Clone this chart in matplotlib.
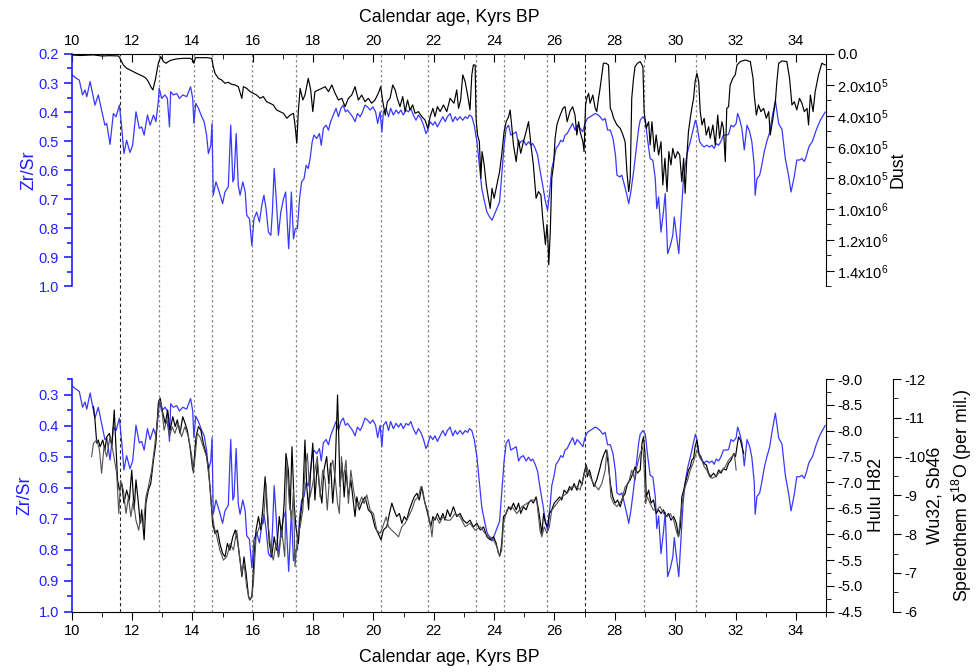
import numpy as np
import matplotlib
matplotlib.use("Agg")
import matplotlib.pyplot as plt
from matplotlib.ticker import MultipleLocator, FuncFormatter

plt.rcParams['font.family'] = ['Liberation Sans', 'DejaVu Sans']
plt.rcParams['mathtext.default'] = 'regular'
plt.rcParams['axes.unicode_minus'] = False
plt.rcParams['font.size'] = 10.5

BLUE = '#3838ff'
TXT_BLUE = '#2020ff'

# Zr/Sr ratio (same record in both panels)
zrsr_age = [
    10.00, 10.08, 10.16, 10.25, 10.36, 10.44, 10.50, 10.61, 10.68, 10.77, 10.88, 10.99,
    11.10, 11.16, 11.27, 11.38, 11.47, 11.58, 11.66, 11.73, 11.82, 11.93, 12.02, 12.13,
    12.24, 12.32, 12.40, 12.51, 12.60, 12.71, 12.79, 12.87, 12.90, 12.98, 13.09, 13.17,
    13.24, 13.28, 13.37, 13.48, 13.57, 13.68, 13.81, 13.94, 14.01, 14.05, 14.11, 14.20,
    14.31, 14.39, 14.47, 14.53, 14.61, 14.65, 14.69, 14.78, 14.89, 15.00, 15.08, 15.19,
    15.27, 15.34, 15.38, 15.45, 15.52, 15.58, 15.67, 15.75, 15.80, 15.89, 15.97,
    16.04, 16.13, 16.22, 16.30, 16.37, 16.44, 16.52, 16.60, 16.65, 16.71, 16.77, 16.85,
    16.93, 17.02, 17.09, 17.15, 17.19, 17.24, 17.28, 17.35, 17.41, 17.48, 17.55, 17.62,
    17.70, 17.77, 17.84, 17.90, 17.97, 18.03, 18.12, 18.21, 18.27, 18.34, 18.43, 18.51,
    18.58, 18.67, 18.76, 18.84, 18.92, 19.00, 19.07, 19.14, 19.23, 19.31, 19.39, 19.47,
    19.56, 19.64, 19.72, 19.80, 19.89, 19.98, 20.07, 20.14, 20.22, 20.28, 20.33, 20.42,
    20.50, 20.57, 20.66, 20.75, 20.83, 20.91, 20.99, 21.08, 21.16, 21.24, 21.32, 21.41,
    21.49, 21.57, 21.66, 21.74, 21.80, 21.88, 21.97, 22.04, 22.12, 22.21, 22.30, 22.38,
    22.45, 22.54, 22.63, 22.71, 22.78, 22.87, 22.96, 23.04, 23.12, 23.18, 23.26, 23.34,
    23.43, 23.51, 23.59, 23.67, 23.76, 23.85, 23.93, 24.00, 24.09, 24.18, 24.26, 24.33,
    24.40, 24.48, 24.55, 24.64, 24.73, 24.81, 24.88, 24.97, 25.06, 25.14, 25.22, 25.28,
    25.36, 25.44, 25.52, 25.61, 25.69, 25.77, 25.83, 25.91, 25.99, 26.05, 26.13, 26.21,
    26.28, 26.35, 26.42, 26.51, 26.60, 26.68, 26.75, 26.85, 26.94, 27.01, 27.09, 27.18,
    27.27, 27.35, 27.42, 27.51, 27.60, 27.68, 27.76, 27.85, 27.94, 28.02, 28.07, 28.16,
    28.23, 28.32, 28.40, 28.46, 28.53, 28.62, 28.71, 28.79, 28.84, 28.93, 29.01, 29.08,
    29.17, 29.26, 29.34, 29.39, 29.45, 29.53, 29.61, 29.67, 29.75, 29.84, 29.92, 29.97,
    30.03, 30.12, 30.19, 30.26, 30.33, 30.41, 30.50, 30.59, 30.67, 30.72, 30.81, 30.89,
    30.96, 31.05, 31.14, 31.22, 31.29, 31.36, 31.44, 31.51, 31.60, 31.69, 31.77, 31.85,
    31.93, 32.02, 32.07, 32.13, 32.21, 32.29, 32.38, 32.47, 32.54, 32.62, 32.65, 32.71,
    32.80, 32.87, 32.95, 33.04, 33.13, 33.21, 33.32, 33.43, 33.54, 33.65, 33.76, 33.84,
    33.95, 34.03, 34.12, 34.20, 34.28, 34.35, 34.43, 34.55, 34.68, 34.80, 34.97,
]
zrsr = [
    0.270, 0.278, 0.284, 0.290, 0.341, 0.324, 0.347, 0.295, 0.330, 0.376, 0.341, 0.393,
    0.445, 0.439, 0.511, 0.405, 0.416, 0.376, 0.456, 0.543, 0.497, 0.539, 0.514, 0.399,
    0.456, 0.451, 0.479, 0.410, 0.445, 0.410, 0.433, 0.364, 0.318, 0.353, 0.341, 0.353,
    0.451, 0.330, 0.341, 0.336, 0.353, 0.341, 0.347, 0.313, 0.353, 0.439, 0.370, 0.387,
    0.416, 0.433, 0.479, 0.543, 0.514, 0.439, 0.686, 0.640, 0.675, 0.715, 0.675, 0.657,
    0.445, 0.640, 0.629, 0.474, 0.652, 0.686, 0.640, 0.675, 0.755, 0.767, 0.859,
    0.767, 0.744, 0.778, 0.721, 0.686, 0.732, 0.813, 0.824, 0.744, 0.594, 0.686, 0.824,
    0.744, 0.698, 0.675, 0.790, 0.870, 0.767, 0.675, 0.836, 0.801, 0.801, 0.698, 0.640,
    0.629, 0.583, 0.594, 0.560, 0.502, 0.479, 0.491, 0.474, 0.514, 0.456, 0.445, 0.462,
    0.433, 0.410, 0.387, 0.416, 0.387, 0.376, 0.399, 0.393, 0.405, 0.416, 0.433, 0.405,
    0.416, 0.399, 0.376, 0.382, 0.393, 0.382, 0.399, 0.439, 0.399, 0.468, 0.399, 0.387,
    0.416, 0.387, 0.410, 0.393, 0.405, 0.393, 0.410, 0.393, 0.399, 0.387, 0.410, 0.428,
    0.410, 0.422, 0.445, 0.474, 0.462, 0.433, 0.445, 0.433, 0.451, 0.433, 0.416, 0.433,
    0.416, 0.405, 0.433, 0.416, 0.428, 0.416, 0.428, 0.416, 0.422, 0.410, 0.416, 0.445,
    0.502, 0.583, 0.663, 0.703, 0.744, 0.761, 0.772, 0.755, 0.732, 0.709, 0.606, 0.514,
    0.456, 0.445, 0.479, 0.474, 0.468, 0.514, 0.502, 0.497, 0.514, 0.502, 0.514, 0.508,
    0.525, 0.548, 0.600, 0.652, 0.703, 0.738, 0.686, 0.594, 0.560, 0.525, 0.514, 0.497,
    0.502, 0.479, 0.474, 0.456, 0.439, 0.462, 0.445, 0.456, 0.468, 0.439, 0.422, 0.416,
    0.410, 0.405, 0.408, 0.416, 0.428, 0.422, 0.462, 0.462, 0.491, 0.548, 0.617, 0.623,
    0.617, 0.652, 0.686, 0.715, 0.675, 0.606, 0.525, 0.456, 0.428, 0.416, 0.428, 0.491,
    0.560, 0.566, 0.629, 0.732, 0.692, 0.813, 0.744, 0.680, 0.887, 0.859, 0.824, 0.761,
    0.813, 0.887, 0.767, 0.652, 0.583, 0.537, 0.502, 0.462, 0.428, 0.445, 0.502, 0.514,
    0.520, 0.514, 0.520, 0.514, 0.525, 0.508, 0.514, 0.502, 0.479, 0.479, 0.477, 0.445,
    0.451, 0.439, 0.405, 0.422, 0.456, 0.530, 0.445, 0.468, 0.502, 0.583, 0.686, 0.629,
    0.617, 0.583, 0.537, 0.500, 0.470, 0.420, 0.360, 0.440, 0.460, 0.560, 0.620, 0.675,
    0.620, 0.565, 0.565, 0.560, 0.570, 0.550, 0.520, 0.500, 0.460, 0.430, 0.400,
]

# Dust (units of 1e5)
dust_age = [
    10.00, 10.28, 10.72, 10.99, 11.27, 11.55, 11.60, 11.71, 11.82, 11.93, 12.04, 12.15,
    12.26, 12.38, 12.46, 12.54, 12.62, 12.69, 12.77, 12.82, 12.87, 12.95, 13.04, 13.13,
    13.20, 13.31, 13.48, 13.70, 13.92, 14.01, 14.05, 14.10, 14.26, 14.48, 14.64, 14.69,
    14.75, 14.86, 14.97, 15.08, 15.19, 15.30, 15.41, 15.52, 15.64, 15.69, 15.80, 15.91,
    16.02, 16.13, 16.24, 16.35, 16.46, 16.57, 16.68, 16.79, 16.90, 17.02, 17.13, 17.24,
    17.35, 17.40, 17.46, 17.51, 17.57, 17.66, 17.73, 17.84, 17.92, 17.99, 18.06, 18.18,
    18.29, 18.40, 18.51, 18.62, 18.73, 18.84, 18.95, 19.06, 19.17, 19.28, 19.39, 19.50,
    19.61, 19.72, 19.83, 19.94, 20.05, 20.16, 20.24, 20.31, 20.39, 20.46, 20.55, 20.64,
    20.72, 20.79, 20.88, 20.97, 21.05, 21.13, 21.21, 21.30, 21.38, 21.49, 21.60, 21.71,
    21.80, 21.88, 21.97, 22.04, 22.12, 22.21, 22.32, 22.43, 22.54, 22.67, 22.76, 22.82,
    22.89, 22.96, 23.04, 23.12, 23.20, 23.26, 23.31, 23.37, 23.40, 23.45, 23.51, 23.56,
    23.60, 23.67, 23.74, 23.81, 23.87, 23.93, 24.00, 24.09, 24.18, 24.25, 24.33, 24.40,
    24.48, 24.53, 24.59, 24.64, 24.73, 24.81, 24.88, 24.97, 25.06, 25.14, 25.22, 25.30,
    25.39, 25.47, 25.55, 25.61, 25.66, 25.70, 25.75, 25.78, 25.81, 25.86, 25.91, 25.97,
    26.02, 26.08, 26.13, 26.19, 26.28, 26.35, 26.42, 26.51, 26.60, 26.68, 26.74, 26.80,
    26.85, 26.94, 26.98, 27.03, 27.07, 27.13, 27.18, 27.27, 27.35, 27.40, 27.46, 27.51,
    27.57, 27.62, 27.71, 27.79, 27.85, 27.90, 27.96, 28.07, 28.18, 28.27, 28.34, 28.40,
    28.46, 28.51, 28.56, 28.62, 28.67, 28.75, 28.84, 28.93, 28.97, 29.04, 29.12, 29.17,
    29.23, 29.31, 29.37, 29.45, 29.53, 29.59, 29.66, 29.73, 29.79, 29.86, 29.92, 30.00,
    30.08, 30.15, 30.22, 30.28, 30.33, 30.39, 30.44, 30.50, 30.55, 30.61, 30.66, 30.72,
    30.78, 30.83, 30.89, 30.96, 31.03, 31.11, 31.16, 31.25, 31.33, 31.41, 31.47, 31.55,
    31.60, 31.66, 31.71, 31.77, 31.82, 31.91, 31.99, 32.05, 32.16, 32.32, 32.49, 32.58,
    32.62, 32.69, 32.76, 32.84, 32.93, 33.02, 33.10, 33.15, 33.24, 33.32, 33.37, 33.43,
    33.54, 33.70, 33.79, 33.87, 33.95, 34.03, 34.12, 34.20, 34.28, 34.37, 34.42, 34.48,
    34.57, 34.64, 34.75, 34.86, 34.97,
]
dust_e5 = [
    0.06, 0.10, 0.06, 0.13, 0.11, 0.13, 0.28, 0.71, 0.92, 1.03, 1.14, 1.25,
    1.35, 1.46, 1.57, 1.79, 2.11, 2.32, 1.68, 1.14, 0.60, 0.17, 0.49, 0.60,
    0.49, 0.39, 0.32, 0.28, 0.28, 0.39, 0.60, 0.24, 0.24, 0.24, 0.28, 0.82,
    1.25, 1.57, 1.68, 1.89, 1.83, 1.96, 2.00, 2.11, 2.86, 2.11, 2.22, 2.43,
    2.54, 2.65, 2.86, 2.75, 3.08, 3.18, 3.29, 3.61, 3.72, 3.83, 4.15, 3.94,
    3.83, 4.58, 5.76, 3.72, 2.22, 2.97, 2.65, 1.57, 2.32, 3.72, 2.43, 2.32,
    2.22, 2.11, 2.43, 2.00, 2.54, 2.97, 2.86, 3.40, 2.86, 2.65, 2.11, 2.97,
    2.65, 3.08, 2.86, 3.18, 2.97, 2.54, 2.11, 3.08, 3.94, 3.08, 2.86, 2.00,
    2.32, 2.86, 3.40, 2.75, 3.72, 2.97, 3.61, 3.29, 3.83, 3.72, 4.04, 4.26,
    4.80, 4.04, 3.51, 4.04, 3.40, 3.72, 3.29, 3.72, 2.86, 3.18, 2.32, 3.51,
    2.97, 1.35, 1.79, 2.65, 3.61, 1.35, 0.71, 0.71, 4.15, 5.23, 5.66, 8.02,
    6.30, 7.16, 8.45, 9.31, 9.96, 8.67, 9.31, 8.45, 7.59, 6.52, 5.01, 4.37,
    4.04, 3.61, 4.80, 5.87, 6.95, 5.55, 6.41, 5.66, 5.01, 4.37, 5.87, 7.16,
    9.31, 8.88, 9.10, 10.6, 11.5, 12.3, 11.0, 11.9, 13.6, 11.5, 8.02, 7.16,
    5.44, 4.58, 4.26, 3.94, 3.51, 3.40, 4.37, 3.72, 3.40, 3.94, 5.23, 4.37,
    5.01, 5.66, 6.30, 3.29, 2.86, 2.54, 3.18, 2.65, 3.51, 3.72, 2.86, 2.22,
    1.35, 0.60, 0.60, 0.71, 3.51, 3.72, 4.15, 4.58, 4.80, 5.23, 5.66, 7.59,
    8.88, 8.02, 2.86, 1.57, 0.82, 0.60, 0.49, 0.82, 3.72, 4.80, 4.37, 5.87,
    4.37, 6.30, 5.23, 6.52, 5.66, 8.45, 6.73, 8.88, 6.30, 7.16, 6.09, 6.73,
    6.30, 6.52, 8.24, 6.73, 8.99, 6.52, 5.01, 4.15, 3.51, 2.86, 1.79, 1.25,
    1.79, 3.72, 4.58, 4.15, 5.23, 4.69, 5.44, 4.58, 5.87, 3.94, 5.44, 4.37,
    4.80, 6.95, 3.51, 3.40, 2.00, 1.57, 1.35, 0.71, 0.49, 0.39, 0.49, 1.57,
    2.65, 3.94, 3.29, 3.72, 3.51, 4.15, 3.72, 5.23, 4.15, 3.08, 1.79, 0.60,
    0.45, 0.49, 1.57, 3.29, 3.08, 3.61, 2.86, 3.18, 3.72, 3.51, 4.58, 2.65,
    3.72, 2.43, 1.35, 0.60, 0.71,
]
dust = np.array(dust_e5) * 1e5

# Hulu H82 speleothem d18O
hulu_age = [
    10.72, 10.77, 10.83, 10.88, 10.94, 11.03, 11.10, 11.16, 11.25, 11.33, 11.41, 11.45,
    11.52, 11.58, 11.66, 11.73, 11.82, 11.91, 11.99, 12.07, 12.13, 12.21, 12.27, 12.32,
    12.40, 12.46, 12.54, 12.62, 12.71, 12.79, 12.87, 12.93, 13.02, 13.10, 13.18, 13.26,
    13.35, 13.43, 13.50, 13.59, 13.68, 13.76, 13.83, 13.92, 14.01, 14.05, 14.12, 14.20,
    14.28, 14.36, 14.45, 14.53, 14.61, 14.67, 14.75, 14.83, 14.91, 15.00, 15.08, 15.16,
    15.24, 15.34, 15.42, 15.49, 15.58, 15.64, 15.71, 15.78, 15.86, 15.91, 15.97, 16.00,
    16.04, 16.11, 16.19, 16.26, 16.33, 16.41, 16.46, 16.55, 16.63, 16.71, 16.79, 16.88,
    16.96, 17.04, 17.10, 17.18, 17.24, 17.30, 17.37, 17.43, 17.51, 17.57, 17.66, 17.73,
    17.79, 17.85, 17.92, 17.99, 18.06, 18.14, 18.21, 18.29, 18.36, 18.45, 18.52, 18.58,
    18.65, 18.73, 18.81, 18.85, 18.89, 18.96, 19.03, 19.09, 19.17, 19.25, 19.34, 19.39,
    19.45, 19.53, 19.61, 19.72, 19.83, 19.94, 20.05, 20.16, 20.25, 20.33, 20.44, 20.53,
    20.61, 20.68, 20.77, 20.86, 20.94, 21.02, 21.10, 21.19, 21.27, 21.35, 21.44, 21.52,
    21.60, 21.66, 21.74, 21.82, 21.90, 21.97, 22.04, 22.12, 22.21, 22.30, 22.37, 22.45,
    22.54, 22.65, 22.76, 22.87, 22.98, 23.09, 23.20, 23.31, 23.43, 23.54, 23.65, 23.76,
    23.87, 23.98, 24.07, 24.14, 24.20, 24.25, 24.31, 24.40, 24.48, 24.55, 24.64, 24.73,
    24.81, 24.88, 24.97, 25.06, 25.14, 25.22, 25.30, 25.39, 25.47, 25.52, 25.58, 25.64,
    25.70, 25.77, 25.83, 25.91, 25.99, 26.08, 26.17, 26.24, 26.32, 26.41, 26.50, 26.57,
    26.65, 26.74, 26.83, 26.91, 26.98, 27.05, 27.09, 27.16, 27.24, 27.31, 27.40, 27.49,
    27.57, 27.65, 27.71, 27.78, 27.85, 27.93, 28.01, 28.09, 28.18, 28.27, 28.34, 28.42,
    28.51, 28.60, 28.67, 28.75, 28.84, 28.90, 28.95, 29.00, 29.04, 29.12, 29.20, 29.28,
    29.37, 29.45, 29.53, 29.61, 29.70, 29.78, 29.86, 29.95, 30.04, 30.11, 30.17, 30.22,
    30.28, 30.33, 30.39, 30.44, 30.50, 30.55, 30.61, 30.66, 30.72, 30.78, 30.85, 30.94,
    31.03, 31.11, 31.18, 31.27, 31.36, 31.44, 31.52, 31.60, 31.69, 31.77, 31.85, 31.94,
    32.00, 32.05, 32.10, 32.16, 32.21, 32.27,
]
hulu = [
    -8.47, -8.21, -7.76, -7.82, -7.69, -7.82, -7.63, -7.88, -7.95, -7.69, -8.40, -7.88,
    -7.05, -6.85, -6.98, -6.60, -6.85, -6.66, -7.24, -6.47, -7.05, -6.60, -6.21, -6.47,
    -5.89, -6.60, -6.85, -6.98, -7.43, -7.76, -8.53, -8.63, -8.34, -8.14, -8.40, -8.01,
    -8.27, -8.08, -8.21, -7.95, -8.27, -8.14, -8.01, -7.69, -7.24, -7.37, -7.88, -8.08,
    -8.01, -7.76, -7.56, -7.30, -6.72, -6.21, -6.01, -6.08, -5.82, -5.63, -5.56, -5.82,
    -5.69, -5.95, -6.08, -5.89, -5.50, -5.18, -5.56, -5.24, -4.79, -4.73, -4.79, -5.05,
    -5.56, -6.08, -6.34, -6.08, -6.47, -7.11, -6.60, -5.82, -5.56, -5.95, -5.69, -6.34,
    -5.95, -6.60, -7.56, -7.24, -6.47, -7.69, -6.60, -6.14, -5.82, -6.27, -6.72, -7.82,
    -6.92, -6.47, -7.24, -7.76, -6.66, -7.37, -6.92, -6.60, -7.24, -7.50, -6.98, -7.37,
    -6.60, -7.24, -8.69, -7.88, -6.92, -7.37, -6.72, -7.24, -6.72, -7.05, -6.60, -6.34,
    -6.72, -6.47, -6.60, -6.72, -6.47, -6.40, -6.14, -6.01, -5.89, -6.08, -6.14, -6.40,
    -6.60, -6.47, -6.34, -6.40, -6.21, -6.34, -6.27, -6.47, -6.60, -6.72, -6.79, -6.66,
    -6.92, -6.72, -6.53, -6.34, -6.14, -6.34, -6.27, -6.40, -6.27, -6.40, -6.27, -6.47,
    -6.34, -6.53, -6.34, -6.40, -6.27, -6.21, -6.27, -6.14, -6.21, -6.08, -6.14, -5.95,
    -5.89, -5.95, -5.82, -5.63, -5.60, -5.82, -6.34, -6.40, -6.53, -6.47, -6.60, -6.47,
    -6.60, -6.40, -6.53, -6.47, -6.60, -6.66, -6.60, -6.72, -6.47, -6.27, -6.01, -6.40,
    -6.21, -6.14, -6.40, -6.47, -6.60, -6.66, -6.72, -6.66, -6.85, -6.79, -6.92, -6.85,
    -6.98, -6.85, -7.05, -6.95, -7.18, -7.34, -7.11, -7.24, -7.05, -6.92, -7.05, -7.24,
    -7.43, -7.56, -7.63, -7.37, -6.98, -6.72, -6.60, -6.66, -6.53, -6.72, -6.79, -6.98,
    -7.05, -7.18, -7.30, -7.18, -7.24, -7.76, -7.88, -7.56, -6.72, -6.85, -6.60, -6.66,
    -6.40, -6.47, -6.40, -6.47, -6.34, -6.40, -6.27, -6.34, -6.21, -5.95, -6.14, -6.72,
    -6.85, -6.98, -7.11, -7.24, -7.30, -7.43, -7.47, -7.69, -7.82, -7.56, -7.50, -7.37,
    -7.34, -7.18, -7.11, -7.18, -7.11, -7.24, -7.18, -7.27, -7.24, -7.37, -7.43, -7.56,
    -7.50, -7.70, -7.88, -7.82, -7.70, -7.56,
]

# Wu32 / Sb46 speleothem d18O
wu_age = [
    10.66, 10.72, 10.83, 10.92, 10.99, 11.07, 11.16, 11.27, 11.38, 11.49, 11.56, 11.62,
    11.71, 11.80, 11.88, 11.96, 12.04, 12.13, 12.22, 12.29, 12.37, 12.46, 12.54, 12.65,
    12.76, 12.84, 12.91, 12.98, 13.06, 13.15, 13.24, 13.33, 13.42, 13.53, 13.64, 13.75,
    13.87, 13.98, 14.03, 14.10, 14.16, 14.25, 14.36, 14.47, 14.56, 14.64, 14.72, 14.81,
    14.91, 15.03, 15.14, 15.25, 15.36, 15.47, 15.56, 15.63, 15.71, 15.80, 15.89, 15.97,
    16.02, 16.11, 16.22, 16.35, 16.44, 16.52, 16.60, 16.68, 16.77, 16.86, 16.96, 17.06,
    17.13, 17.21, 17.29, 17.35, 17.40, 17.48, 17.57, 17.66, 17.73, 17.81, 17.90, 17.99,
    18.06, 18.14, 18.23, 18.32, 18.40, 18.47, 18.56, 18.65, 18.74, 18.81, 18.87, 18.94,
    19.00, 19.09, 19.17, 19.25, 19.34, 19.42, 19.50, 19.61, 19.69, 19.78, 19.89, 20.00,
    20.11, 20.22, 20.31, 20.42, 20.50, 20.61, 20.72, 20.83, 20.94, 21.05, 21.16, 21.27,
    21.38, 21.49, 21.57, 21.63, 21.71, 21.79, 21.88, 21.94, 21.99, 22.08, 22.19, 22.30,
    22.43, 22.54, 22.71, 22.87, 23.04, 23.20, 23.37, 23.54, 23.70, 23.87, 23.98, 24.09,
    24.18, 24.25, 24.31, 24.42, 24.59, 24.75, 24.92, 25.08, 25.25, 25.41, 25.52, 25.58,
    25.66, 25.75, 25.83, 25.91, 26.08, 26.24, 26.41, 26.57, 26.74, 26.85, 26.96, 27.07,
    27.18, 27.29, 27.46, 27.57, 27.68, 27.74, 27.79, 27.87, 27.96, 28.07, 28.23, 28.34,
    28.45, 28.56, 28.67, 28.73, 28.84, 28.93, 28.97, 29.02, 29.08, 29.17, 29.28, 29.39,
    29.50, 29.62, 29.73, 29.84, 29.95, 30.06, 30.11, 30.17, 30.26, 30.33, 30.41, 30.50,
    30.59, 30.66, 30.72, 30.81, 30.89, 30.96, 31.05, 31.14, 31.22, 31.33, 31.44, 31.55,
    31.66, 31.77, 31.88, 31.96, 32.02,
]
wu = [
    -10.00, -10.34, -10.43, -10.17, -9.57, -10.25, -10.00, -10.51, -10.08, -9.57, -8.53, -9.39,
    -9.14, -8.53, -8.96, -8.45, -8.88, -8.36, -8.10, -8.45, -8.19, -8.96, -9.22, -9.65,
    -10.34, -10.94, -11.46, -11.29, -10.68, -10.94, -10.51, -10.77, -10.60, -10.86, -10.51, -10.77,
    -10.51, -10.00, -9.57, -10.08, -10.60, -10.51, -10.25, -10.00, -9.39, -8.62, -8.19, -7.93,
    -7.59, -7.33, -7.42, -7.76, -7.59, -8.10, -7.42, -6.99, -7.25, -6.64, -6.30, -6.39,
    -6.73, -7.93, -8.19, -8.28, -9.31, -8.19, -7.59, -7.33, -7.76, -7.42, -8.10, -7.42,
    -9.91, -8.79, -8.36, -9.14, -7.16, -7.93, -8.19, -8.62, -9.65, -10.08, -8.96, -9.31,
    -9.65, -10.00, -8.96, -9.65, -9.39, -8.62, -9.65, -9.91, -9.39, -8.79, -8.53, -10.00,
    -9.39, -9.91, -8.79, -9.65, -9.14, -8.79, -8.71, -8.96, -8.79, -9.01, -8.62, -8.53,
    -8.10, -8.02, -8.19, -8.45, -8.19, -8.10, -8.02, -7.93, -8.19, -8.28, -8.45, -8.62,
    -8.88, -8.96, -9.22, -9.14, -8.79, -8.62, -8.28, -7.93, -8.36, -8.45, -8.28, -8.45,
    -8.36, -8.36, -8.53, -8.45, -8.19, -8.28, -8.10, -8.19, -8.02, -7.93, -7.85, -7.68,
    -7.42, -7.59, -8.28, -8.62, -8.71, -8.53, -8.71, -8.79, -8.88, -8.88, -8.10, -7.93,
    -8.19, -8.02, -8.19, -8.62, -8.79, -8.96, -9.05, -9.22, -9.22, -9.14, -9.48, -9.74,
    -9.48, -9.31, -9.14, -9.31, -9.65, -10.17, -9.91, -8.96, -8.79, -8.71, -8.88, -9.22,
    -9.31, -9.65, -9.39, -9.74, -10.08, -10.25, -9.74, -8.79, -8.96, -8.79, -8.62, -8.62,
    -8.71, -8.53, -8.45, -8.53, -8.36, -8.02, -7.93, -8.45, -8.96, -9.22, -9.39, -9.65,
    -9.82, -10.00, -10.17, -10.00, -9.91, -9.74, -9.65, -9.48, -9.44, -9.48, -9.57, -9.65,
    -9.74, -9.91, -10.00, -10.08, -9.65,
]

# event lines (ka BP)
events_black = [11.59, 27.02]
events_grey = [12.89, 14.05, 14.65, 15.98, 17.43, 20.26, 21.81, 23.40, 24.32, 25.76, 28.95, 30.69]


def dust_fmt(v, pos):
    if v <= 0:
        return '0.0'
    e = int(np.floor(np.log10(v) + 1e-9))
    m = v / 10 ** e
    return f'{m:.1f}x10$^{{{e}}}$'


fig = plt.figure(figsize=(9.77, 6.72), dpi=100)
L, W = 0.0734, 0.7721
top_b, top_h = 0.5737, 0.3460
bot_b, bot_h = 0.0897, 0.3463

ax1 = fig.add_axes([L, top_b, W, top_h])
ax2 = fig.add_axes([L, bot_b, W, bot_h])
ax1.set_facecolor('none')
ax2.set_facecolor('none')

# vertical event lines through both panels
axv = fig.add_axes([L, bot_b, W, top_b + top_h - bot_b], zorder=-1)
axv.set_xlim(10, 35)
axv.axis('off')
for a in events_black:
    axv.axvline(a, color='#222222', lw=0.8, ls=(0, (3, 2.5)))
for a in events_grey:
    axv.axvline(a, color='#8a8a8a', lw=0.9, ls=(0, (2, 2)))

# ---- top panel: Zr/Sr and dust
ax1.plot(zrsr_age, zrsr, color=BLUE, lw=0.9)
ax1.set_xlim(10, 35)
ax1.set_ylim(1.0, 0.2)
ax1.xaxis.tick_top()
ax1.xaxis.set_label_position('top')
ax1.set_xlabel('Calendar age, Kyrs BP', fontsize=12.8, labelpad=9)
ax1.xaxis.set_major_locator(MultipleLocator(2))
ax1.xaxis.set_minor_locator(MultipleLocator(1))
ax1.tick_params(axis='x', which='both', direction='in', top=True, bottom=False, pad=4)
ax1.tick_params(axis='x', which='major', length=6)
ax1.tick_params(axis='x', which='minor', length=3.5)
ax1.spines['bottom'].set_visible(False)
ax1.spines['right'].set_visible(False)
ax1.spines['left'].set_color(TXT_BLUE)
ax1.spines['left'].set_linewidth(1.2)
ax1.yaxis.set_major_locator(MultipleLocator(0.1))
ax1.yaxis.set_minor_locator(MultipleLocator(0.05))
ax1.yaxis.set_major_formatter(FuncFormatter(lambda v, p: f'{v:.1f}'))
ax1.tick_params(axis='y', which='both', colors=TXT_BLUE, width=1.2, pad=3)
ax1.tick_params(axis='y', which='major', length=6)
ax1.tick_params(axis='y', which='minor', length=3.5)
ax1.set_ylabel('Zr/Sr', color=TXT_BLUE, fontsize=12.8, labelpad=1)

ax1d = ax1.twinx()
ax1d.plot(dust_age, dust, color='black', lw=0.85)
ax1d.set_ylim(1.5e6, 0)
for s in ['left', 'bottom', 'top']:
    ax1d.spines[s].set_visible(False)
ax1d.yaxis.set_major_locator(MultipleLocator(2e5))
ax1d.yaxis.set_minor_locator(MultipleLocator(1e5))
ax1d.yaxis.set_major_formatter(FuncFormatter(dust_fmt))
ax1d.tick_params(axis='y', which='major', length=6, pad=2)
ax1d.tick_params(axis='y', which='minor', length=3.5)
ax1d.set_ylabel('Dust', fontsize=12.8, labelpad=1)

# ---- bottom panel: Zr/Sr and speleothems
ax2.plot(zrsr_age, zrsr, color=BLUE, lw=0.9)
ax2.set_xlim(10, 35)
ax2.set_ylim(1.0, 0.25)
ax2.set_xlabel('Calendar age, Kyrs BP', fontsize=12.8, labelpad=8)
ax2.xaxis.set_major_locator(MultipleLocator(2))
ax2.xaxis.set_minor_locator(MultipleLocator(1))
ax2.tick_params(axis='x', which='major', length=6, pad=3)
ax2.tick_params(axis='x', which='minor', length=3.5)
ax2.spines['top'].set_visible(False)
ax2.spines['right'].set_visible(False)
ax2.spines['left'].set_color(TXT_BLUE)
ax2.spines['left'].set_linewidth(1.2)
ax2.yaxis.set_major_locator(MultipleLocator(0.1))
ax2.yaxis.set_minor_locator(MultipleLocator(0.05))
ax2.yaxis.set_major_formatter(FuncFormatter(lambda v, p: f'{v:.1f}'))
ax2.tick_params(axis='y', which='both', colors=TXT_BLUE, width=1.2, pad=3)
ax2.tick_params(axis='y', which='major', length=6)
ax2.tick_params(axis='y', which='minor', length=3.5)
ax2.set_ylabel('Zr/Sr', color=TXT_BLUE, fontsize=12.8)

ax2h = ax2.twinx()
ax2h.plot(hulu_age, hulu, color='black', lw=0.85)
ax2h.set_ylim(-4.5, -9.0)
for s in ['left', 'bottom', 'top']:
    ax2h.spines[s].set_visible(False)
ax2h.yaxis.set_major_locator(MultipleLocator(0.5))
ax2h.yaxis.set_minor_locator(MultipleLocator(0.25))
ax2h.yaxis.set_major_formatter(FuncFormatter(lambda v, p: f'{v:.1f}'))
ax2h.tick_params(axis='y', which='major', length=6, pad=2)
ax2h.tick_params(axis='y', which='minor', length=3.5)
ax2h.set_ylabel('Hulu H82', fontsize=12.8)

ax2w = ax2.twinx()
ax2w.spines['right'].set_position(('axes', 1.0888))
ax2w.plot(wu_age, wu, color='#505050', lw=0.8)
ax2w.set_ylim(-6, -12)
for s in ['left', 'bottom', 'top']:
    ax2w.spines[s].set_visible(False)
ax2w.yaxis.set_major_locator(MultipleLocator(1))
ax2w.yaxis.set_minor_locator(MultipleLocator(0.5))
ax2w.yaxis.set_major_formatter(FuncFormatter(lambda v, p: f'{v:.0f}'))
ax2w.tick_params(axis='y', which='major', length=6, pad=2)
ax2w.tick_params(axis='y', which='minor', length=3.5)
ax2w.set_ylabel('Wu32, Sb46\nSpeleothem δ$^{18}$O (per mil.)', fontsize=12.8,
                linespacing=1.35, labelpad=1)

fig.savefig('out.png', dpi=100)
